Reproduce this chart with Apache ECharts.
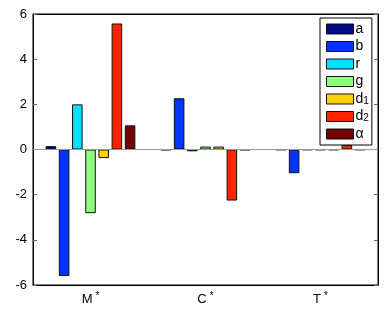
<!DOCTYPE html>
<html>
<head>
<meta charset="utf-8">
<script src="https://cdn.jsdelivr.net/npm/echarts@6/dist/echarts.min.js"></script>
<style>html,body{margin:0;padding:0;background:#fff}#c{width:389px;height:309px}</style>
</head>
<body>
<div id="c"></div>
<script>
const categories = ['M', 'C', 'T'];
const seriesNames = ['a', 'b', 'r', 'g', 'd1', 'd2', 'alpha'];
const a = [0.15, -0.03, -0.02];
const b = [-5.6, 2.27, -1.05];
const r = [2.0, -0.08, -0.02];
const g = [-2.82, 0.13, -0.02];
const d1 = [-0.38, 0.13, -0.02];
const d2 = [5.58, -2.26, 0.2];
const alpha = [1.07, -0.03, -0.02];
const yTicks = [-6, -4, -2, 0, 2, 4, 6];
const colors = ['#000A8C', '#0036FF', '#00E0FF', '#8CFF7A', '#FFD200', '#FF2400', '#720000'];
const values = [a, b, r, g, d1, d2, alpha];
const legendLabels = {
  a: 'a', b: 'b', r: 'r', g: 'g',
  d1: '{m|d}{s|1}', d2: '{m|d}{s|2}', alpha: '{m|α}'
};

const font = '"Liberation Sans", Arial, Helvetica, sans-serif';
const chart = echarts.init(document.getElementById('c'));

const series = seriesNames.map((n, i) => ({
  name: n,
  type: 'bar',
  data: values[i],
  itemStyle: { color: colors[i], borderColor: '#111', borderWidth: 1 },
  barGap: '25%',
  barCategoryGap: '22%',
  animation: false,
  z: 2
}));
series[0].markLine = {
  silent: true, symbol: 'none', animation: false,
  label: { show: false },
  lineStyle: { color: '#999', type: 'solid', width: 1.2 },
  data: [{ yAxis: 0 }],
  z: 3
};

chart.setOption({
  animation: false,
  backgroundColor: '#fff',
  grid: { left: 33, right: 11, top: 14, bottom: 24, show: true, borderColor: '#000', borderWidth: 1, backgroundColor: 'transparent' },
  xAxis: [{
    type: 'category',
    data: categories,
    axisLine: { onZero: false, lineStyle: { color: '#000' } },
    axisTick: { inside: true, alignWithLabel: true, length: 4, lineStyle: { color: '#666' } },
    axisLabel: {
      margin: 6,
      formatter: v => '{m|' + v + '}{s|*}',
      rich: {
        m: { fontFamily: font, fontSize: 13, color: '#000' },
        s: { fontFamily: font, fontSize: 10, color: '#000', verticalAlign: 'top', padding: [0, 0, 7, 3] }
      }
    }
  }, {
    type: 'category',
    data: categories,
    position: 'top',
    axisLine: { show: true, onZero: false, lineStyle: { color: '#000' } },
    axisTick: { inside: true, alignWithLabel: true, length: 4, lineStyle: { color: '#666' } },
    axisLabel: { show: false }
  }],
  yAxis: [{
    type: 'value',
    min: -6, max: 6, interval: 2,
    axisLine: { show: true, lineStyle: { color: '#000' } },
    axisTick: { show: true, inside: true, length: 4, lineStyle: { color: '#666' } },
    splitLine: { show: false },
    axisLabel: {
      margin: 6, fontFamily: font, fontSize: 13, color: '#000',
      formatter: v => yTicks.includes(v) ? String(v) : ''
    }
  }, {
    type: 'value',
    min: -6, max: 6, interval: 2,
    position: 'right',
    axisLine: { show: true, lineStyle: { color: '#000' } },
    axisTick: { show: true, inside: true, length: 4, lineStyle: { color: '#666' } },
    splitLine: { show: false },
    axisLabel: { show: false }
  }],
  legend: {
    orient: 'vertical',
    left: 320, top: 18,
    width: 53,
    padding: [4, 3, 4, 6],
    itemWidth: 27, itemHeight: 10, itemGap: 3.5,
    backgroundColor: '#fff',
    borderColor: '#000', borderWidth: 1,
    z: 10,
    icon: 'rect',
    itemStyle: { borderColor: '#111', borderWidth: 1 },
    data: seriesNames,
    formatter: n => legendLabels[n],
    textStyle: {
      fontFamily: font, fontSize: 14, color: '#000', padding: [0, 0, 0, -3], lineHeight: 14,
      rich: {
        m: { fontFamily: font, fontSize: 14, color: '#000' },
        s: { fontFamily: font, fontSize: 10, color: '#000', verticalAlign: 'bottom', padding: [10, 0, 0, 0] }
      }
    }
  },
  series: series
});
</script>
</body>
</html>
